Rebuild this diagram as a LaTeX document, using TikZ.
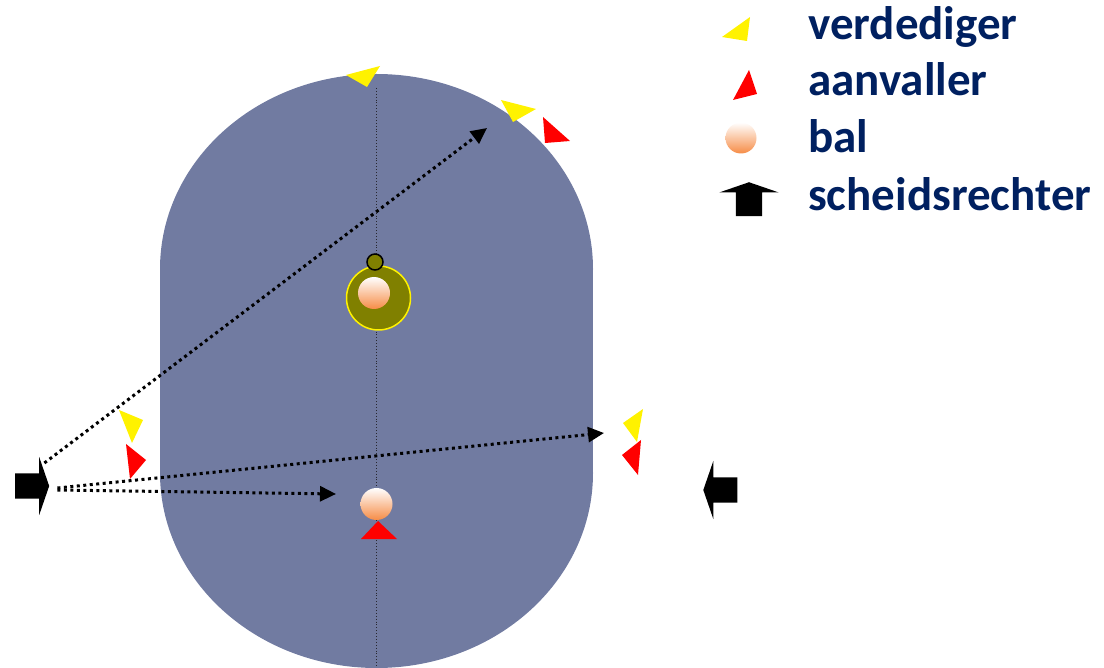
\documentclass[tikz,border=0pt]{standalone}
\usepackage{fontspec}
\setmainfont{Carlito}
\newfontfamily\legendafont{Carlito}
\usetikzlibrary{arrows.meta,shapes.arrows}
\definecolor{veldblauw}{RGB}{113,123,161}
\definecolor{legendablauw}{RGB}{0,32,96}
\definecolor{balorange}{RGB}{246,140,70}
\definecolor{middenolijf}{RGB}{128,128,0}
\definecolor{lijngrijs}{RGB}{40,40,48}
\tikzset{
    % Players: defender yellow, attacker red
    verdediger/.style={fill=yellow, draw=none},
    aanvaller/.style={fill=red, draw=none},
    % Ball with soft gradient
    bal/.style={
        circle, minimum size=32pt, inner sep=0pt,
        top color=white, bottom color=balorange, draw=none
    },
    % Referee drawn as block arrow
    scheids/.style={
        single arrow, fill=black, draw=none,
        inner sep=0pt, inner ysep=12.5pt, minimum height=34pt,
        single arrow head extend=16.5pt, single arrow tip angle=142
    },
    % Centre spot
    middencirkel/.style={
        circle, fill=middenolijf, draw=yellow,
        minimum size=64pt, inner sep=0pt, line width=1.5pt
    },
    middenstip/.style={
        circle, fill=middenolijf, draw=black,
        minimum size=16pt, inner sep=0pt, line width=1.5pt
    }
}
\tikzset{
    % Lines of sight
    kijklijn/.style={
        line width=3pt, dash pattern=on 3pt off 3.5pt,
        -{Triangle[length=16pt,width=15pt]}
    },
    middenlijn/.style={line width=0.9pt, lijngrijs, dotted},
    legendatekst/.style={
        font=\legendafont\bfseries\fontsize{47}{56}\selectfont,
        text=legendablauw, anchor=base west, inner sep=0pt
    }
}
\begin{document}
\begin{tikzpicture}[x=1pt,y=-1pt]
  \useasboundingbox (0,0) rectangle (1104,668);
  % field
  \fill[veldblauw] (376.5,269) ellipse [x radius=216.5, y radius=195];
  \fill[veldblauw] (376.5,473) ellipse [x radius=216.5, y radius=195];
  \fill[veldblauw] (160,269) rectangle (593,473);
  \draw[middenlijn] (376,88) -- (376,668);
  % centre
  \node[middencirkel] (midden) at (378.5,298) {};
  \node[middenstip] (stip) at (375,262) {};
  \node[bal] (bal1) at (374,293) {};
  \node[bal] (bal2) at (376.5,504) {};
  % players
  \fill[verdediger] (346,75) -- (380,66) -- (367,87) -- cycle;
  \fill[verdediger] (501,100) -- (536,109) -- (513,122) -- cycle;
  \fill[aanvaller] (543,117) -- (570,141) -- (545,143) -- cycle;
  \fill[aanvaller] (378,521) -- (397,539) -- (361,539) -- cycle;
  \fill[verdediger] (119,410) -- (143,420) -- (132,443) -- cycle;
  \fill[aanvaller] (126,444) -- (146,460) -- (130,479) -- cycle;
  \fill[verdediger] (623,423) -- (643,409) -- (637,442) -- cycle;
  \fill[aanvaller] (622,455) -- (641,440) -- (638,475) -- cycle;
  % referees
  \node[scheids] (refL) at (30,486) {};
  \node[scheids, shape border rotate=180] (refR) at (722.5,490) {};
  % lines of sight
  \coordinate (doel1) at (487,128);
  \coordinate (doel2) at (604,433);
  \coordinate (doel3) at (336,494);
  \draw[kijklijn] ([xshift=-5pt,yshift=23pt]refL.tip) -- (doel1);
  \draw[kijklijn] ([xshift=8pt,yshift=-2pt]refL.tip) -- (doel2);
  \draw[kijklijn] ([xshift=8pt,yshift=-4pt]refL.tip) -- (doel3);
  % legend
  \fill[verdediger] (722,37) -- (750,17) -- (747,41) -- cycle;
  \fill[aanvaller] (733,100) -- (749,70) -- (757,94) -- cycle;
  \node[bal, minimum size=31pt] (legbal) at (741,138) {};
  \node[scheids, shape border rotate=90, inner ysep=0pt, inner xsep=13pt]
    (legref) at (749,201.5) {};
  \node[legendatekst] (tverd) at (808,40) {verdediger};
  \node[legendatekst] (taanv) at (808,96) {aanvaller};
  \node[legendatekst] (tbal) at (808,153) {bal};
  \node[legendatekst] (tscheids) at (808,211) {scheidsrechter};
\end{tikzpicture}
\end{document}
